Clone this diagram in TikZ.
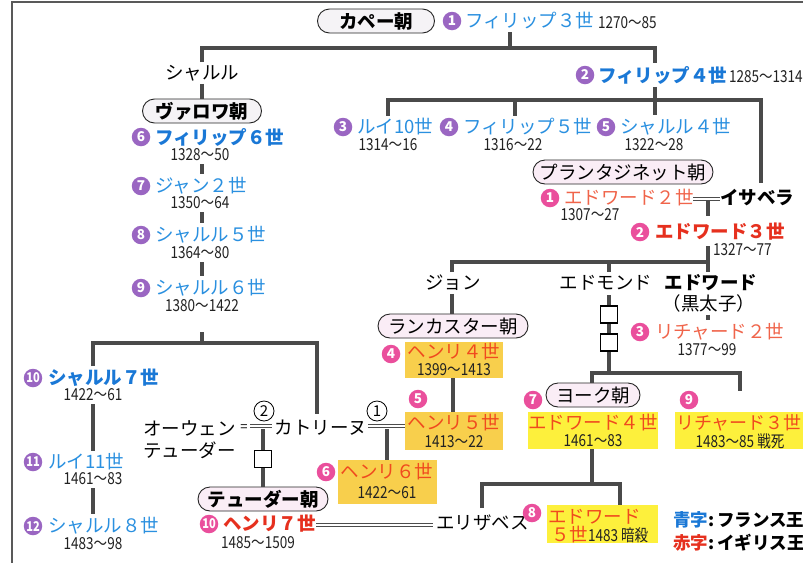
\documentclass[tikz,border=0pt]{standalone}
\usepackage{fontspec}
\setmainfont{Noto Sans CJK JP}
\newfontfamily\yrf[FakeStretch=0.82]{Noto Sans CJK JP}
\definecolor{lnc}{HTML}{4A4A4A}
\definecolor{fblue}{HTML}{2A90E0}
\definecolor{fbblue}{HTML}{1A78D6}
\definecolor{salmon}{HTML}{F0644A}
\definecolor{bred}{HTML}{E6301E}
\definecolor{ored}{HTML}{F04A1E}
\definecolor{purp}{HTML}{9A66C2}
\definecolor{pinkc}{HTML}{EA4F9C}
\definecolor{hyA}{HTML}{F8CF4C}
\definecolor{hyB}{HTML}{FDF03C}
\definecolor{dynf}{HTML}{FAEDF6}
\definecolor{dynw}{HTML}{F5F3F6}
\definecolor{ytext}{HTML}{222222}
\tikzset{
  ln/.style={draw=lnc, line width=4pt},
  dbl/.style={draw=black!70, line width=0.9pt, double=white, double distance=2.4pt},
  dyn/.style={draw=black!85, line width=0.9pt, rounded corners=12pt, fill=dynf, inner sep=0,
    minimum height=24pt, font=\fontsize{18.5}{20}\selectfont},
  nm/.style={inner sep=0, outer sep=3pt, anchor=west, font=\fontsize{18.5}{20}\selectfont},
  nmc/.style={nm, anchor=center},
  yr/.style={inner sep=0, outer sep=3pt, text=ytext, font=\yrf\fontsize{16.5}{18}\selectfont},
  pc/.style={circle, fill=purp, text=white, inner sep=0, minimum size=18.5pt,
    font=\bfseries\fontsize{13.5}{13.5}\selectfont},
  kc/.style={pc, fill=pinkc},
  oc/.style={circle, draw=black, line width=0.8pt, inner sep=0, minimum size=20pt,
    font=\fontsize{15}{15}\selectfont},
  sqb/.style={draw=black, line width=1.2pt, fill=white, minimum size=17pt, inner sep=0},
  hbox/.style={inner sep=0, draw=none},
}
\begin{document}
\begin{tikzpicture}[x=1pt, y=-1pt]
\useasboundingbox (0,0) rectangle (803,563);
\fill[white] (0,0) rectangle (803,563);
% frame
\draw[black!65, line width=1.3pt] (803,2) -- (12,2) -- (12,563);

% ---------- France ----------
\node[dyn, fill=dynw, minimum width=117pt] (kapet) at (376,21) {\bfseries カペー朝};
\node[pc] (c1) at (452,21) {1};
\node[nm, text=fblue] (p3) at (462,21) {フィリップ３世};
\node[yr, anchor=west] (p3y) at (595,23) {1270〜85};
\coordinate (t1) at (510,48);
\coordinate (t2) at (655,48);
\draw[ln] (t1 |- p3.south) -- (t1);

\node[nmc] (charles) at (202,73) {シャルル};
\node[pc] (c2) at (585,75) {2};
\node[nm, text=fbblue] (p4) at (595,75) {\bfseries フィリップ４世};
\node[yr, anchor=west] (p4y) at (726,77) {1285〜1314};
\draw[ln] (charles.north) -- (charles.north |- t1) -- (t2) -- (t2 |- p4.north);

\node[dyn, fill=dynw, minimum width=119pt] (valois) at (202,111) {\bfseries ヴァロワ朝};
\draw[ln] (charles.south) -- (valois.north);

\node[pc] (c6) at (141,137) {6};
\node[nm, text=fbblue] (ph6) at (152,137) {\bfseries フィリップ６世};
\node[yr] (y6) at (200,155) {1328〜50};
\node[pc] (c7) at (141,186) {7};
\node[nm, text=fblue] (jean) at (152,186) {ジャン２世};
\node[yr] (y7) at (200,203) {1350〜64};
\node[pc] (c8) at (141,235) {8};
\node[nm, text=fblue] (ch5) at (152,235) {シャルル５世};
\node[yr] (y8) at (200,253) {1364〜80};
\node[pc] (c9) at (141,288) {9};
\node[nm, text=fblue] (ch6) at (152,288) {シャルル６世};
\node[yr] (y9) at (202,306) {1380〜1422};
\draw[ln] (valois |- y6.south) -- (valois |- jean.north);
\draw[ln] (valois |- y7.south) -- (valois |- ch5.north);
\draw[ln] (valois |- y8.south) -- (valois |- ch6.north);

\coordinate (t3) at (202,343);
\coordinate (t3a) at (202,332);
\coordinate (t4) at (93,343);
\coordinate (t5) at (317,343);
\coordinate (t6) at (317,414);
\node[pc] (c10) at (33,378) {\yrf 10};
\node[nm, text=fbblue] (ch7) at (45,378) {\bfseries シャルル７世};
\node[yr] (y10) at (93,395) {1422〜61};
\node[pc] (c11) at (33,462) {\yrf 11};
\node[nm, text=fblue] (louis11) at (45,462) {ルイ11世};
\node[yr] (y11) at (93,479) {1461〜83};
\node[pc] (c12) at (33,526) {\yrf 12};
\node[nm, text=fblue] (ch8) at (45,526) {シャルル８世};
\node[yr] (y12) at (93,544) {1483〜98};
\draw[ln] (t3a) -- (t3);
\draw[ln] (t4 |- ch7.north) -- (t4) -- (t5) -- (t6);
\draw[ln] (t4 |- y10.south) -- (t4 |- louis11.north);
\draw[ln] (t4 |- y11.south) -- (t4 |- ch8.north);

% Philippe IV children
\node[pc] (c3) at (343,127) {3};
\node[nm, text=fblue] (louis10) at (354,127) {ルイ10世};
\node[yr] (y3) at (388,145) {1314〜16};
\node[pc] (c4) at (449,127) {4};
\node[nm, text=fblue] (ph5) at (460,127) {フィリップ５世};
\node[yr] (y4) at (513,145) {1316〜22};
\node[pc] (c5) at (606,127) {5};
\node[nm, text=fblue] (ch4) at (617,127) {シャルル４世};
\node[yr] (y5) at (654,145) {1322〜28};
\coordinate (u1) at (388,100);
\coordinate (u2) at (515,100);
\coordinate (u3) at (761,100);
\coordinate (u4) at (761,183);
\draw[ln] (t2 |- p4.south) -- (t2 |- ch4.north);
\draw[ln] (u1 |- louis10.north) -- (u1) -- (u3) -- (u4);
\draw[ln] (u2) -- (u2 |- ph5.north);

% ---------- England ----------
\node[dyn, minimum width=180pt] (plant) at (623,172) {プランタジネット朝};
\node[kc] (k1) at (550,198) {1};
\node[nm, text=salmon] (ed2) at (561,198) {エドワード２世};
\node[yr] (ey1) at (590,215) {1307〜27};
\node[nm, font=\bfseries\fontsize{18.5}{20}\selectfont, outer sep=0pt] (isab) at (720,198) {イサベラ};
\coordinate (m1) at (693,199);
\draw[dbl] (m1) -- (isab.west |- m1);
\draw[ln] (708,201) -- (708,216);

\node[kc] (k2) at (640,232) {2};
\node[nm, text=bred] (ed3) at (652,232) {\bfseries エドワード３世};
\node[yr, anchor=west] (ey2) at (710,250) {1327〜77};
\coordinate (v1) at (708,262);
\coordinate (v2) at (452,262);
\coordinate (v3) at (609,262);
\coordinate (v4) at (708,246);
\node[nmc] (john) at (453,283) {ジョン};
\node[nmc] (edmund) at (606,283) {エドモンド};
\node[nmc] (bp) at (711,283) {\bfseries エドワード};
\node[nmc] (bp2) at (709,303) {（黒太子）};
\draw[ln] (v4) -- (v1 |- bp.north);
\draw[ln] (v2 |- john.north) -- (v2) -- (v1);
\draw[ln] (v3) -- (v3 |- edmund.north);

% Edmund line to York
\coordinate (w0) at (609,295);
\coordinate (w1) at (592,373);
\coordinate (w2) at (740,373);
\coordinate (w3) at (740,391);
\draw[ln] (w0) -- (w0 |- w1);
\node[sqb] (sq1) at (609,314.5) {};
\node[sqb] (sq2) at (609,342.5) {};
\node[dyn, minimum width=94pt] (york) at (593,395) {ヨーク朝};
\draw[ln] (w1 |- york.north) -- (w1) -- (w2) -- (w3);

% Black prince -> Richard II
\node[kc] (k3) at (640,332) {3};
\node[nm, text=salmon] (ri2) at (652,332) {リチャード２世};
\node[yr] (ey3) at (707,350) {1377〜99};
\draw[ln] (v1 |- bp2.south) -- (v1 |- ri2.north);

% Lancaster
\node[dyn, minimum width=150pt] (lanc) at (453,326) {ランカスター朝};
\draw[ln] (john.south -| v2) -- (lanc.north -| v2);
\node[hbox, fill=hyA, minimum width=98pt, minimum height=36pt] (hb4) at (454,360) {};
\node[kc] (k4) at (391,354) {4};
\node[nmc, outer sep=0pt, text=ored] (h4) at (454,352) {ヘンリ４世};
\node[yr, outer sep=0pt] (hy4) at (454,370) {1399〜1413};
\node[hbox, fill=hyA, minimum width=98pt, minimum height=38pt] (hb5) at (454,431) {};
\node[kc] (k5) at (418,399) {5};
\node[nmc, outer sep=0pt, text=ored] (h5) at (454,423) {ヘンリ５世};
\node[yr, outer sep=0pt] (hy5) at (454,442) {1413〜22};
\coordinate (n1) at (453,0);
\draw[ln] (n1 |- hb4.south) -- (n1 |- hb5.north);

\node[nmc] (cath) at (321,428) {カトリーヌ};
\node[oc] (o1) at (377,411) {1};
\coordinate (m2) at (368,426);
\draw[dbl] (m2) -- (hb5.west |- m2);
\node[hbox, fill=hyA, minimum width=99pt, minimum height=44pt] (hb6) at (387.5,482) {};
\node[kc] (k6) at (326,472) {6};
\node[nmc, outer sep=0pt, text=ored] (h6) at (387,472) {ヘンリ６世};
\node[yr, outer sep=0pt] (hy6) at (387,493) {1422〜61};
\coordinate (n2) at (387,429);
\draw[ln] (n2) -- (n2 |- hb6.north);

% Tudor
\node[nm] (owen) at (140,428) {オーウェン};
\node[inner sep=0, font=\fontsize{13}{13}\selectfont] (eq) at (244,428) {=};
\node[nm] (owen2) at (140,450) {テューダー};
\node[oc] (o2) at (264,411) {2};
\coordinate (m3) at (250,426);
\draw[dbl] (m3) -- (cath.west |- m3);
\node[dyn, minimum width=130pt] (tudor) at (263,499) {\bfseries テューダー朝};
\coordinate (n3) at (263,429);
\draw[ln] (n3) -- (n3 |- tudor.north);
\node[sqb] (sq3) at (263,459) {};
\node[kc] (k10) at (209,524) {\yrf 10};
\node[nm, text=bred] (h7) at (220,524) {\bfseries ヘンリ７世};
\node[yr] (hy7) at (258,543) {1485〜1509};
\node[nm] (eliz) at (433,523) {エリザベス};
\coordinate (m4) at (316,525);
\draw[dbl] (m4) -- (eliz.west |- m4);

% York
\node[kc] (k7) at (533,400) {7};
\node[hbox, fill=hyB, minimum width=130pt, minimum height=37pt] (hbe4) at (593,430.5) {};
\node[nmc, outer sep=0pt, text=ored] (e4) at (593,423) {エドワード４世};
\node[yr, outer sep=0pt] (ye4) at (593,441) {1461〜83};
\node[kc] (k9) at (689,400) {9};
\node[hbox, fill=hyB, minimum width=130pt, minimum height=37pt] (hbr3) at (740,430.5) {};
\node[nm, outer sep=0pt, text=ored, font=\fontsize{18}{20}\selectfont] (r3) at (676,423) {リチャード３世};
\node[yr, outer sep=0pt] (yr3) at (740,441) {1483〜85 戦死};
\coordinate (x1) at (592,484);
\coordinate (x2) at (482,484);
\coordinate (x3) at (620,484);
\coordinate (x4) at (482,508);
\draw[ln] (hbe4.south -| x1) -- (x1);
\node[kc] (k8) at (532,513) {8};
\node[hbox, fill=hyB, minimum width=111pt, minimum height=38pt] (hbe5) at (602.5,524) {};
\node[nm, outer sep=0pt, text=ored] (e5) at (548,517) {エドワード};
\node[nm, outer sep=0pt] (e5b) at (551,535) {\textcolor{ored}{５世}{\yrf\fontsize{16.5}{18}\selectfont\color{ytext}1483 暗殺}};
\draw[ln] (x4) -- (x2) -- (x3) -- (x3 |- hbe5.north);

% legend
\node[nm, font=\bfseries\fontsize{17.5}{20}\selectfont] (lg1) at (670,520) {\textcolor{fbblue}{青字}:\,フランス王};
\node[nm, font=\bfseries\fontsize{17.5}{20}\selectfont] (lg2) at (670,543) {\textcolor{bred}{赤字}:\,イギリス王};
\end{tikzpicture}
\end{document}
